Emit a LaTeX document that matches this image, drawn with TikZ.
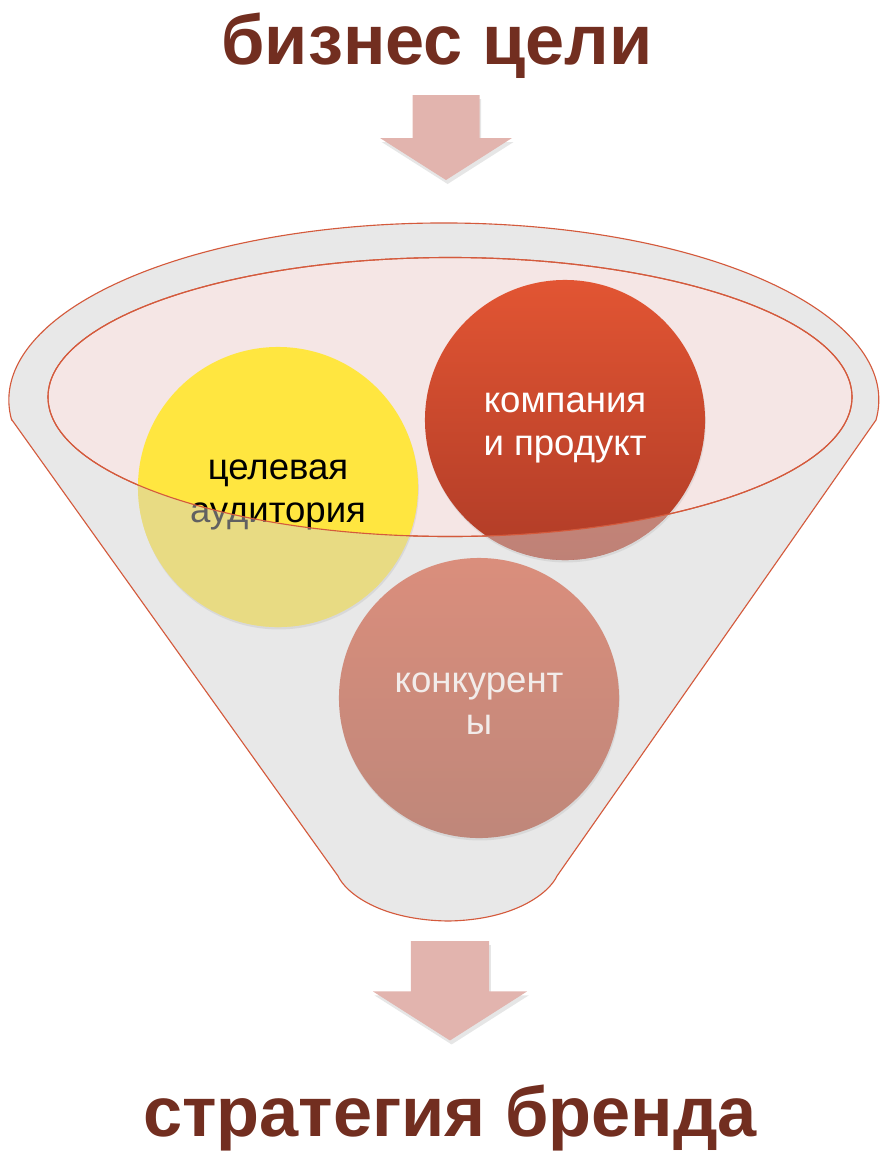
\documentclass[tikz,border=0pt]{standalone}
\usepackage{fontspec}
\setmainfont{Liberation Sans}
\usetikzlibrary{positioning,shadows,calc}
\pgfdeclarelayer{bg}
\pgfsetlayers{bg,main}
\definecolor{titlered}{HTML}{722E20}
\definecolor{rimline}{HTML}{D45A3C}
\definecolor{funnelgray}{HTML}{E8E8E8}
\definecolor{mouthpink}{HTML}{F5E6E5}
\definecolor{arrowpink}{HTML}{E2B4AE}
\definecolor{audyellow}{HTML}{FFE640}
\definecolor{comptop}{HTML}{E25533}
\definecolor{compbot}{HTML}{B03C27}
\definecolor{rivtop}{HTML}{DA8E7C}
\definecolor{rivbot}{HTML}{BF877A}
\definecolor{rivtext}{HTML}{F2ECEA}
\definecolor{veil}{HTML}{D0D0D0}
\tikzset{
  heading/.style={font=\fontsize{50}{60}\selectfont\bfseries, text=titlered, anchor=base},
  ball/.style={circle, minimum size=7cm, inner sep=0pt,
    drop shadow={opacity=0.15, shadow xshift=0.02cm, shadow yshift=-0.06cm}},
  word/.style={align=center, inner sep=0pt, font=\fontsize{26}{30}\selectfont},
  downarrow/.style={fill=arrowpink, drop shadow={opacity=0.2, shadow xshift=0.04cm, shadow yshift=-0.1cm}},
  rim/.style={draw=rimline, line width=0.8pt}
}

\begin{document}
\begin{tikzpicture}[x=0.025cm,y=-0.025cm]
  \useasboundingbox (0,0) rectangle (881,1151);
  \coordinate (mouth) at (450,397);
  \node[heading] (goals) at (437,64) {бизнес цели};
  \node[heading] (brand) at (450,1136) {стратегия бренда};
  \foreach \cx/\ty/\s in {446/95/1, 450/941/1.17} {
    \fill[downarrow] ({\cx-33.5*\s},\ty) -- ++({67*\s},0) -- ++(0,{43*\s}) -- ++({32.5*\s},0)
      -- ({\cx},{\ty+85*\s}) -- ({\cx-66*\s},{\ty+43*\s}) -- ++({32.5*\s},0) -- cycle;
  }
  \begin{pgfonlayer}{bg}
    \filldraw[rim, fill=funnelgray] (12,420) -- (338,876)
      .. controls (346,893) and (380,920) .. (448,921)
      .. controls (515,920) and (549,893) .. (557,876) -- (876,420)
      arc[start angle=6.5, end angle=-186.5, x radius=435, y radius=177] -- cycle;
    \filldraw[rim, fill=mouthpink] (mouth) ellipse [x radius=402, y radius=139.5];
  \end{pgfonlayer}
  \node[ball, fill=audyellow] (aud) at (278,487) {};
  \node[word] (audtext) at ([yshift=-0.2cm]aud.center) {целевая\\аудитория};
  \node[ball, top color=comptop, bottom color=compbot] (comp) at (565,420) {};
  \node[word, text=white] (comptext) at ([yshift=-0.2cm]comp.center) {компания\\и продукт};
  % front of the funnel over the balls
  \begin{scope}
    \clip (aud.center) circle (140) (comp.center) circle (140);
    \fill[veil, fill opacity=0.47, even odd rule] (0,0) rectangle (881,1151)
      (mouth) ellipse [x radius=402, y radius=139.5];
  \end{scope}
  \draw[rim] (mouth) ellipse [x radius=402, y radius=139.5];
  \node[ball, top color=rivtop, bottom color=rivbot] (riv) at (479,698) {};
  \node[word, text=rivtext] (rivtext) at ([yshift=-0.15cm]riv.center) {конкурент\\ы};
\end{tikzpicture}
\end{document}
